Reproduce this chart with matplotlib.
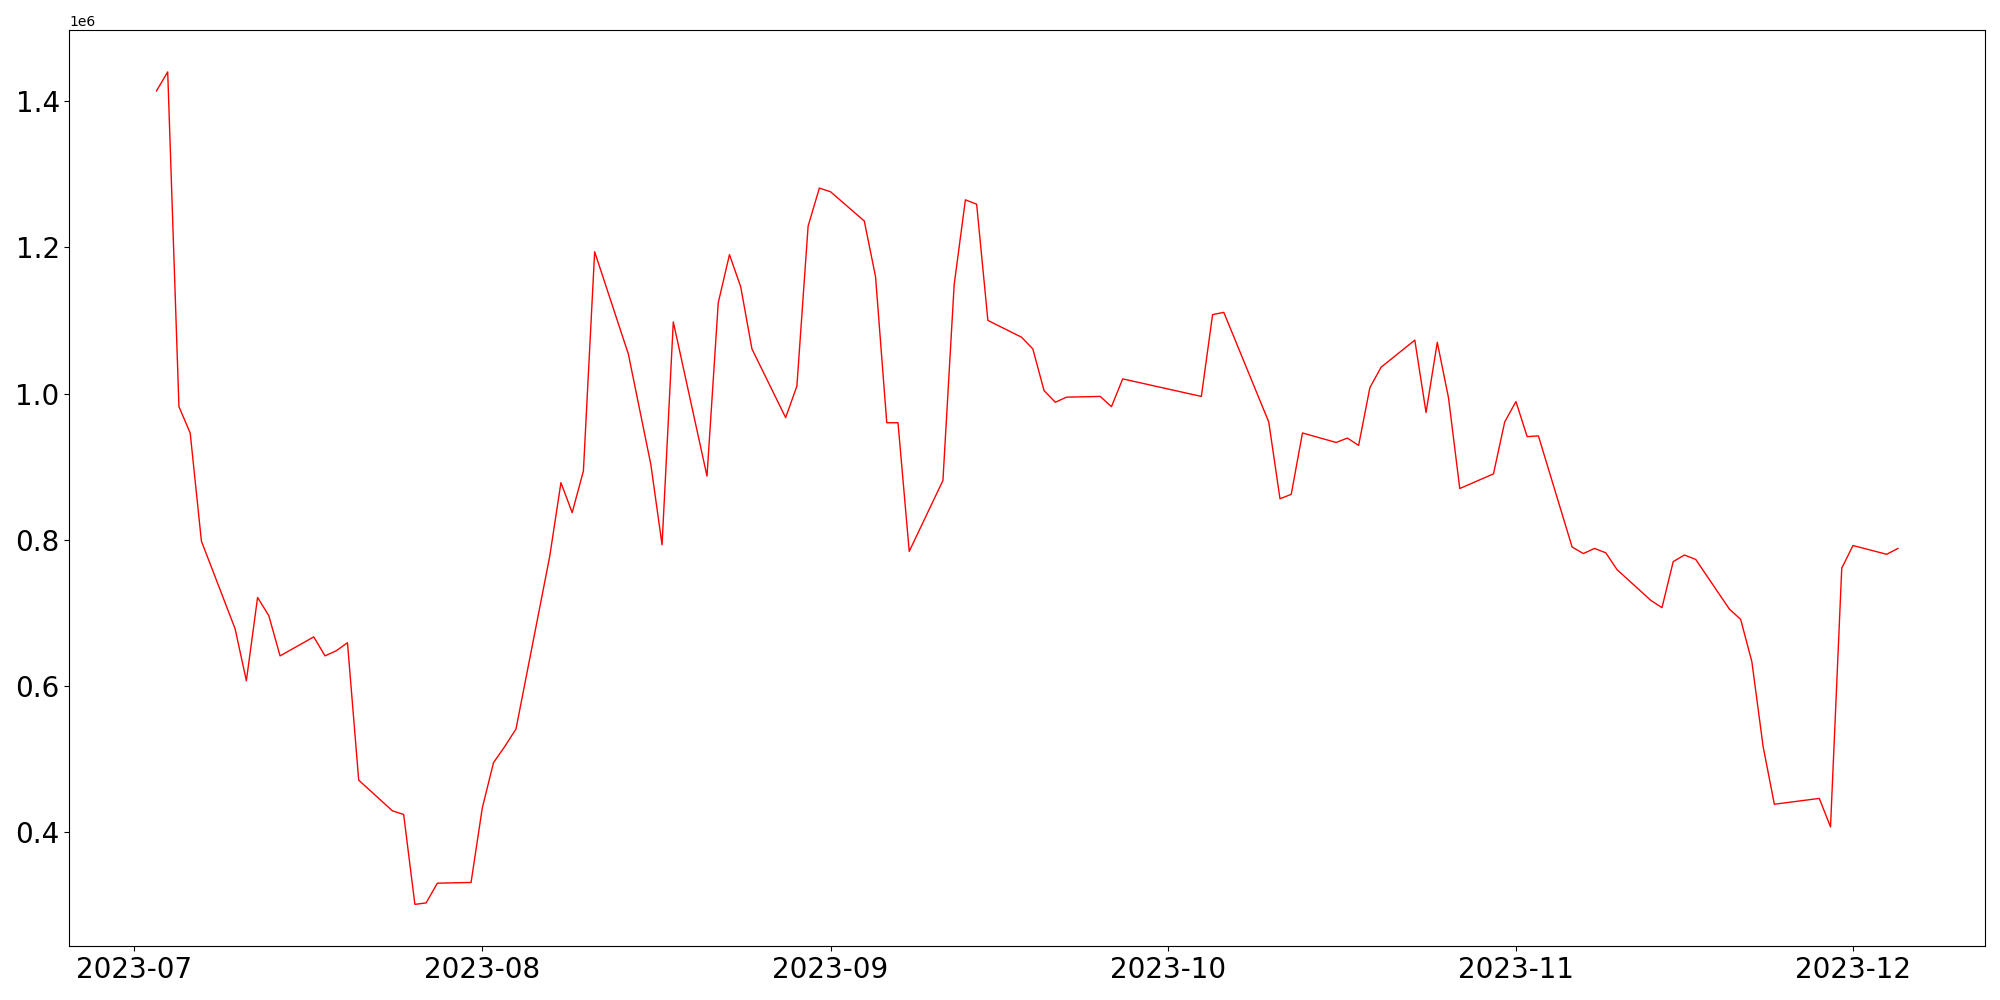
import pandas as pd
import matplotlib.pyplot as plt
import numpy as np

# trading days (Korean market calendar, holidays skipped)
dates = [
    "2023-07-03", "2023-07-04", "2023-07-05", "2023-07-06", "2023-07-07",
    "2023-07-10", "2023-07-11", "2023-07-12", "2023-07-13", "2023-07-14",
    "2023-07-17", "2023-07-18", "2023-07-19", "2023-07-20", "2023-07-21",
    "2023-07-24", "2023-07-25", "2023-07-26", "2023-07-27", "2023-07-28",
    "2023-07-31", "2023-08-01", "2023-08-02", "2023-08-03", "2023-08-04",
    "2023-08-07", "2023-08-08", "2023-08-09", "2023-08-10", "2023-08-11",
    "2023-08-14", "2023-08-16", "2023-08-17", "2023-08-18",
    "2023-08-21", "2023-08-22", "2023-08-23", "2023-08-24", "2023-08-25",
    "2023-08-28", "2023-08-29", "2023-08-30", "2023-08-31", "2023-09-01",
    "2023-09-04", "2023-09-05", "2023-09-06", "2023-09-07", "2023-09-08",
    "2023-09-11", "2023-09-12", "2023-09-13", "2023-09-14", "2023-09-15",
    "2023-09-18", "2023-09-19", "2023-09-20", "2023-09-21", "2023-09-22",
    "2023-09-25", "2023-09-26", "2023-09-27",
    "2023-10-04", "2023-10-05", "2023-10-06",
    "2023-10-10", "2023-10-11", "2023-10-12", "2023-10-13",
    "2023-10-16", "2023-10-17", "2023-10-18", "2023-10-19", "2023-10-20",
    "2023-10-23", "2023-10-24", "2023-10-25", "2023-10-26", "2023-10-27",
    "2023-10-30", "2023-10-31", "2023-11-01", "2023-11-02", "2023-11-03",
    "2023-11-06", "2023-11-07", "2023-11-08", "2023-11-09", "2023-11-10",
    "2023-11-13", "2023-11-14", "2023-11-15", "2023-11-16", "2023-11-17",
    "2023-11-20", "2023-11-21", "2023-11-22", "2023-11-23", "2023-11-24",
    "2023-11-27", "2023-11-28", "2023-11-29", "2023-11-30", "2023-12-01",
    "2023-12-04", "2023-12-05",
]

values = [
    1.414, 1.440, 0.982, 0.946, 0.798,
    0.678, 0.607, 0.721, 0.696, 0.641,
    0.667, 0.641, 0.648, 0.659, 0.471,
    0.429, 0.424, 0.301, 0.303, 0.330,
    0.331, 0.433, 0.495, 0.517, 0.541,
    0.777, 0.878, 0.837, 0.894, 1.194,
    1.054, 0.903, 0.793, 1.098,
    0.887, 1.124, 1.190, 1.146, 1.061,
    0.967, 1.010, 1.229, 1.281, 1.276,
    1.236, 1.160, 0.960, 0.960, 0.784,
    0.881, 1.149, 1.265, 1.259, 1.100,
    1.077, 1.061, 1.004, 0.988, 0.995,
    0.996, 0.982, 1.020,
    0.996, 1.108, 1.111,
    0.961, 0.856, 0.862, 0.946,
    0.933, 0.939, 0.929, 1.008, 1.036,
    1.073, 0.974, 1.070, 0.994, 0.870,
    0.890, 0.961, 0.989, 0.941, 0.942,
    0.790, 0.781, 0.788, 0.782, 0.759,
    0.717, 0.707, 0.770, 0.779, 0.773,
    0.705, 0.691, 0.633, 0.517, 0.438,
    0.444, 0.446, 0.407, 0.761, 0.792,
    0.780, 0.788,
]

df = pd.DataFrame({'date': pd.to_datetime(dates), 'value': np.array(values) * 1e6})

fig, ax = plt.subplots(figsize=(20, 10), dpi=100)
fig.subplots_adjust(left=0.0347, right=0.9925, bottom=0.054, top=0.9697)

ax.plot(df['date'], df['value'], color='red', linewidth=1)

ax.tick_params(axis='both', labelsize=20)

plt.savefig('out.png')
